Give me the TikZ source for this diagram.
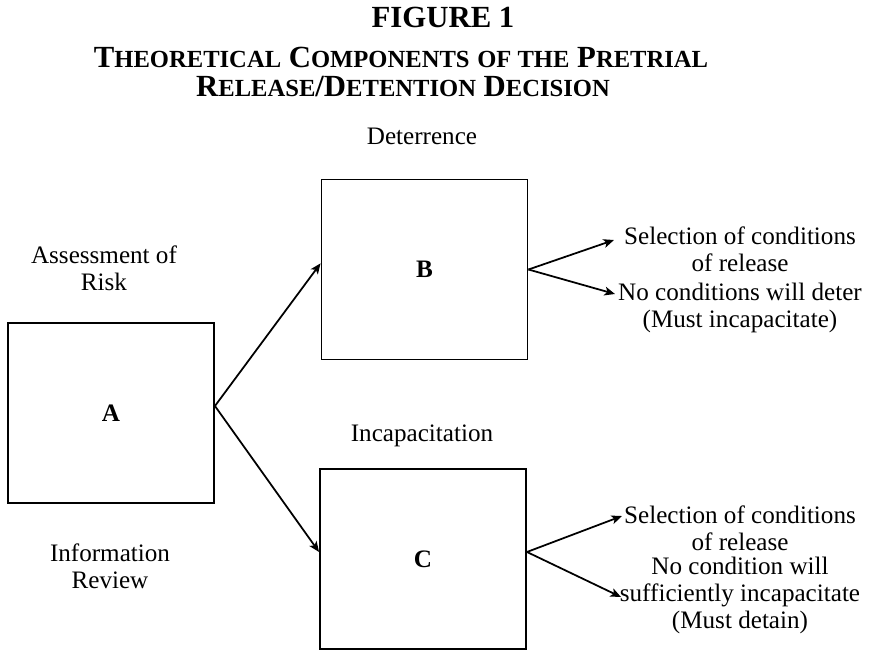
\documentclass[tikz,border=0pt]{standalone}
\usepackage{fontspec}
\setmainfont{Liberation Serif}
\usetikzlibrary{arrows.meta, positioning, calc}

\newcommand{\capsword}[2]{{\fontsize{17.5}{18}\selectfont #1}{\fontsize{14}{15}\selectfont #2}}

\tikzset{
  stagebox/.style={draw, line width=1.1pt, minimum width=4.12cm, minimum height=3.6cm, inner sep=0pt, font=\fontsize{14.3}{15}\selectfont\bfseries},
  caption/.style={inner sep=0pt, align=center, font=\fontsize{14.3}{15.4}\selectfont},
  flow/.style={-{Stealth[length=6pt, width=5pt, inset=1.5pt]}, line width=1pt}
}

\begin{document}
\begin{tikzpicture}[x=0.02cm, y=-0.02cm]
  \useasboundingbox (0,0) rectangle (885,650);

  \node[inner sep=0pt, anchor=base, font=\fontsize{17.5}{18}\selectfont\bfseries] (title) at (443,27) {FIGURE 1};
  \node[inner sep=0pt, anchor=base, font=\fontsize{17.5}{18}\selectfont\bfseries] (subone) at (401,67)
    {\capsword{T}{HEORETICAL} \capsword{C}{OMPONENTS} {\fontsize{14}{15}\selectfont OF THE} \capsword{P}{RETRIAL}};
  \node[inner sep=0pt, anchor=base, font=\fontsize{17.5}{18}\selectfont\bfseries] (subtwo) at (403,96)
    {\capsword{R}{ELEASE}/\capsword{D}{ETENTION} \capsword{D}{ECISION}};

  \node[stagebox] (boxA) at (111,413) {A};
  \node[stagebox] (boxB) at (424.5,269.5) {B};
  \node[stagebox] (boxC) at (423,559) {C};

  \node[caption, anchor=north] (assess) at (104,245) {Assessment of\\Risk};
  \node[caption, anchor=north] (info) at (110,543) {Information\\Review};
  \node[caption, anchor=base] (deter) at (422,144) {Deterrence};
  \node[caption, anchor=base] (incap) at (422,441) {Incapacitation};

  \node[caption, anchor=north] (bsel) at (740,226) {Selection of conditions\\of release};
  \node[caption, anchor=north] (bnone) at (740,283) {No conditions will deter\\(Must incapacitate)};
  \node[caption, anchor=north] (csel) at (740,505) {Selection of conditions\\of release};
  \node[caption, anchor=north] (cnone) at (740,557) {No condition will\\sufficiently incapacitate\\(Must detain)};

  \coordinate (bseltip) at (614,240);
  \coordinate (bnonetip) at (615,294);
  \coordinate (cseltip) at (622,516);
  \coordinate (cnonetip) at (621,597);

  \draw[flow] ([yshift=4pt]boxA.east) -- ([yshift=3.5pt]boxB.west);
  \draw[flow] ([yshift=4pt]boxA.east) -- ([yshift=4pt]boxC.west);
  \draw[flow] (boxB.east) -- (bseltip);
  \draw[flow] (boxB.east) -- (bnonetip);
  \draw[flow] ([yshift=4pt]boxC.east) -- (cseltip);
  \draw[flow] ([yshift=4pt]boxC.east) -- (cnonetip);
\end{tikzpicture}
\end{document}
